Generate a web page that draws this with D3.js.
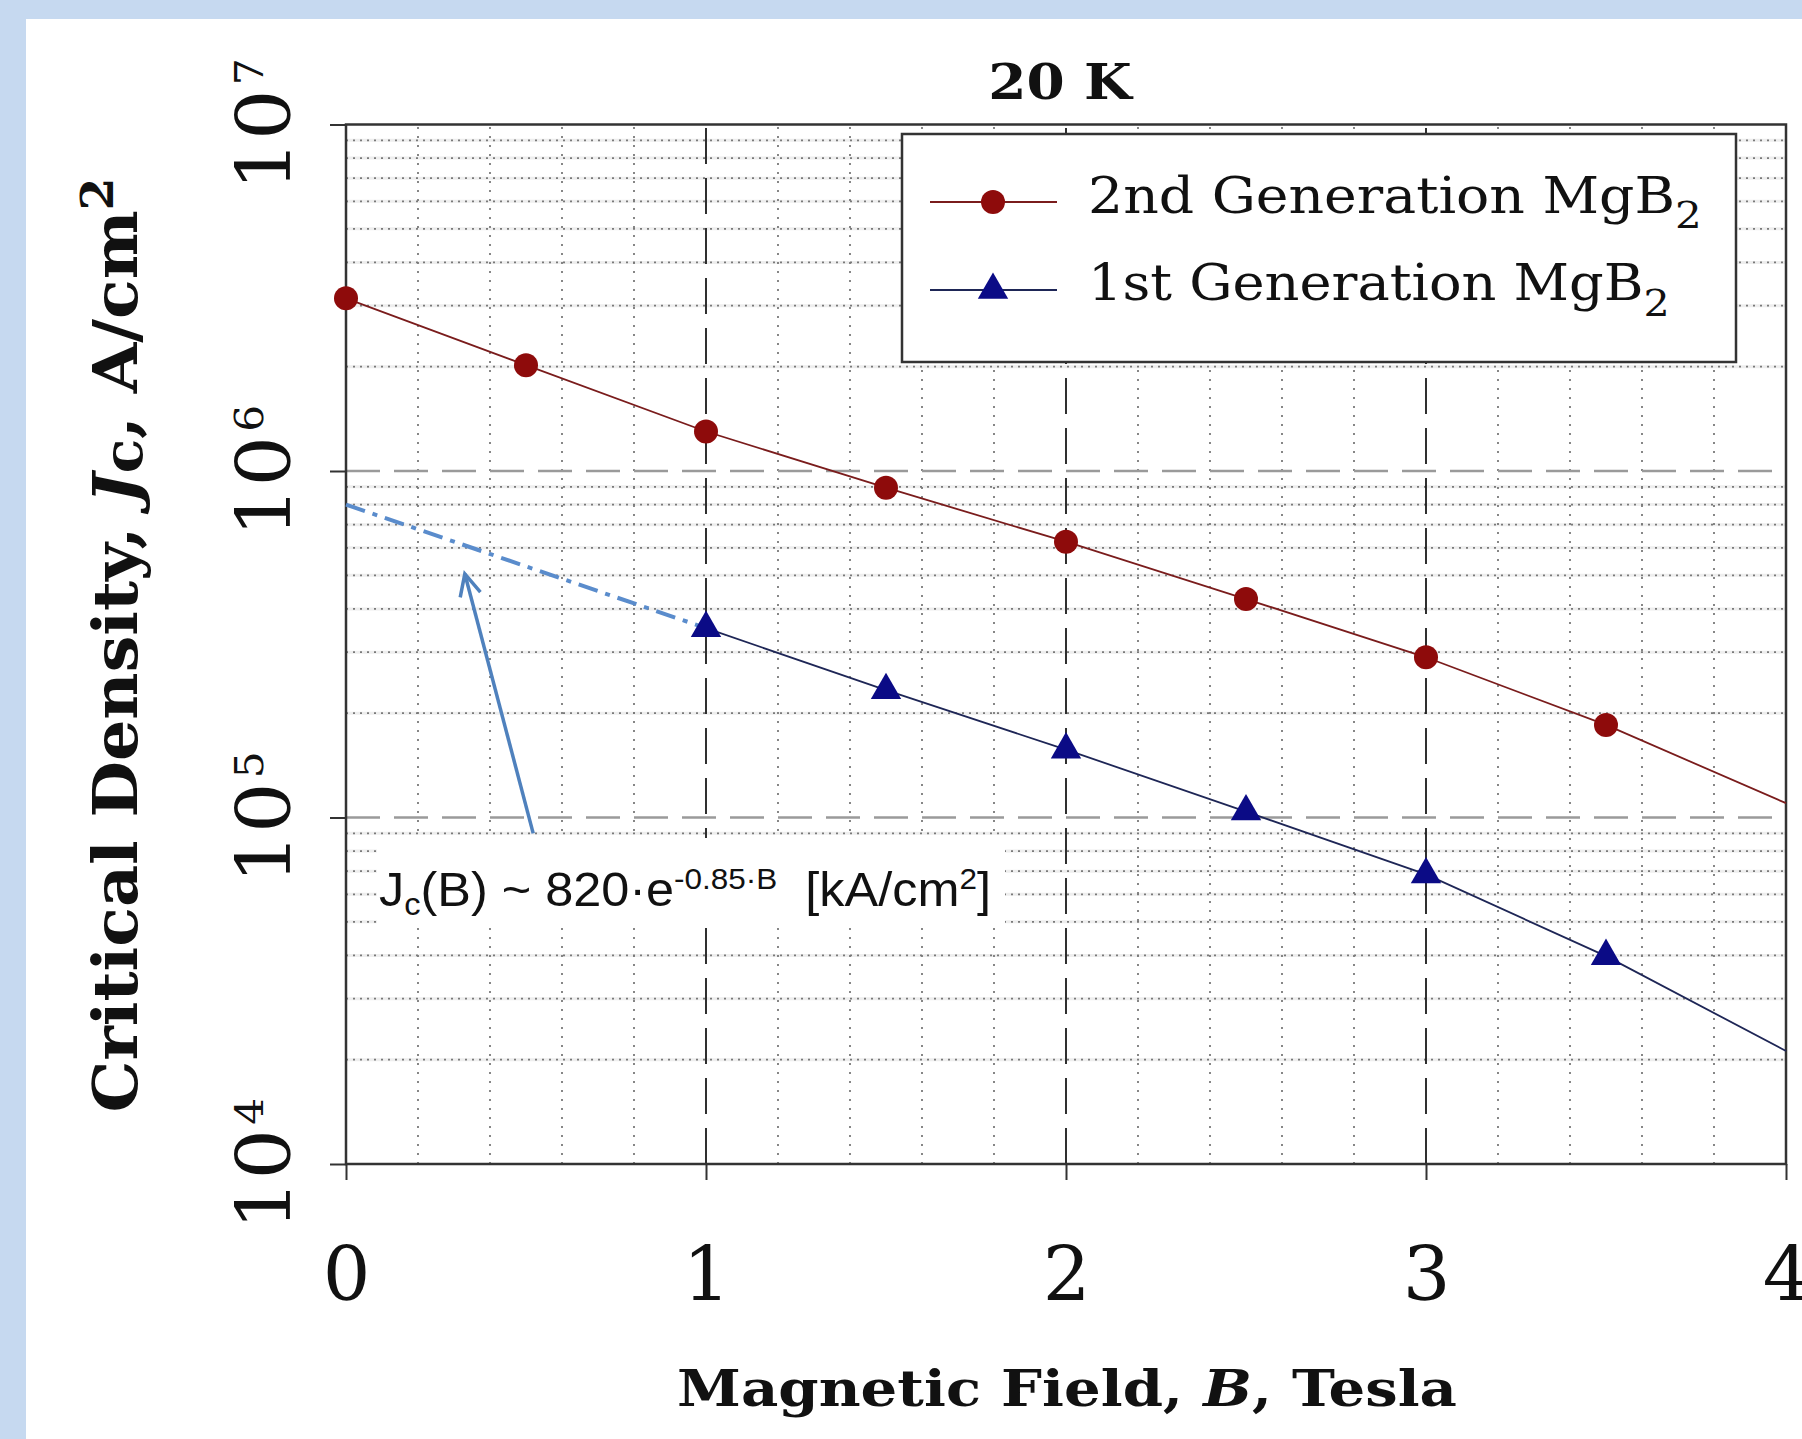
<!DOCTYPE html>
<html>
<head>
<meta charset="utf-8">
<script src="https://cdn.jsdelivr.net/npm/d3@7"></script>
<style>
html, body { margin: 0; padding: 0; background: #ffffff; }
svg { display: block; }
</style>
</head>
<body>
<svg id="chart" width="1802" height="1439"></svg>
<script>
// ---------------- data ----------------
const fieldB2nd = [0, 0.5, 1, 1.5, 2, 2.5, 3, 3.5];
const jc2nd = [3.15e6, 2.02e6, 1.30e6, 8.95e5, 6.25e5, 4.27e5, 2.90e5, 1.85e5];
const fieldB1st = [1, 1.5, 2, 2.5, 3, 3.5];
const jc1st = [3.52e5, 2.33e5, 1.57e5, 1.04e5, 6.85e4, 3.98e4];
const lineEndB = [4];
const jc2ndAtEnd = [1.10e5];
const jc1stAtEnd = [2.12e4];
const fitB = [0, 1];
const fitJc = [8.0e5, 3.52e5];
const arrowB = [0.52, 0.33];
const arrowJc = [9.0e4, 5.05e5];
const xTickValues = [0, 1, 2, 3, 4];
const yTickExponents = [4, 5, 6, 7];
const seriesNames = ["2nd Generation MgB", "1st Generation MgB"];
const titleText = "20 K";

// ---------------- setup ----------------
const svg = d3.select("#chart");
const W = 1802, H = 1439;

svg.append("rect").attr("width", W).attr("height", H).attr("fill", "#c6d9f0");
svg.append("rect").attr("x", 26).attr("y", 19).attr("width", W - 26).attr("height", H - 19).attr("fill", "#ffffff");

const x = d3.scaleLinear().domain([0, 4]).range([346, 1786]);
const y = d3.scaleLog().domain([1e4, 1e7]).range([1164, 124.5]);

const SERIF = "'DejaVu Serif', 'Liberation Serif', serif";
const SANS = "'Liberation Sans', Arial, sans-serif";

// rich text helper: parts = [{t, size, shift, style, weight}]
function richText(textSel, parts, baseSize) {
  let cur = 0;
  parts.forEach(p => {
    const shift = p.shift || 0;
    const ts = textSel.append("tspan").text(p.t);
    ts.attr("dy", shift - cur);
    cur = shift;
    ts.attr("font-size", p.size || baseSize);
    if (p.style) ts.attr("font-style", p.style);
    if (p.weight) ts.attr("font-weight", p.weight);
    if (p.dx) ts.attr("dx", p.dx);
  });
}
function placeText(parent, opt, parts) {
  const g = parent.append("g")
    .attr("transform", `translate(${opt.x},${opt.y}) rotate(${opt.rot || 0})`);
  const t = g.append("text")
    .attr("x", 0).attr("y", 0)
    .attr("text-anchor", opt.anchor || "start")
    .attr("font-family", opt.family)
    .attr("font-size", opt.size)
    .attr("font-weight", opt.weight || "normal")
    .attr("fill", opt.fill || "#111")
    .style("white-space", "pre");
  richText(t, parts, opt.size);
  if (opt.target) {
    const w = t.node().getBBox().width;
    t.attr("transform", `scale(${opt.target / w},1)`);
  } else if (opt.sx) {
    t.attr("transform", `scale(${opt.sx},1)`);
  }
  return g;
}

// ---------------- grid ----------------
const grid = svg.append("g");
const xMinor = d3.range(1, 20).filter(i => i % 5 !== 0).map(i => i * 0.2);
const yMinor = [];
[4, 5, 6].forEach(e => { for (let m = 2; m <= 9; m++) yMinor.push(m * Math.pow(10, e)); });

grid.selectAll(".hfaint").data(yMinor).join("line")
  .attr("x1", x(0)).attr("x2", x(4)).attr("y1", d => y(d)).attr("y2", d => y(d))
  .attr("stroke", "#eeeeee").attr("stroke-width", 3);
grid.selectAll(".hminor").data(yMinor).join("line")
  .attr("x1", x(0)).attr("x2", x(4)).attr("y1", d => y(d)).attr("y2", d => y(d))
  .attr("stroke", "#7a7a7a").attr("stroke-width", 1.8).attr("stroke-dasharray", "2,5");
grid.selectAll(".vminor").data(xMinor).join("line")
  .attr("x1", d => x(d)).attr("x2", d => x(d)).attr("y1", y(1e4)).attr("y2", y(1e7))
  .attr("stroke", "#7a7a7a").attr("stroke-width", 1.8).attr("stroke-dasharray", "2,7");
grid.selectAll(".hmajor").data([1e5, 1e6]).join("line")
  .attr("x1", x(0)).attr("x2", x(4)).attr("y1", d => y(d)).attr("y2", d => y(d))
  .attr("stroke", "#9a9a9a").attr("stroke-width", 2.5).attr("stroke-dasharray", "34,14");
grid.selectAll(".vmajor").data([1, 2, 3]).join("line")
  .attr("x1", d => x(d)).attr("x2", d => x(d)).attr("y1", y(1e4)).attr("y2", y(1e7))
  .attr("stroke", "#1a1a1a").attr("stroke-width", 1.8).attr("stroke-dasharray", "36,14");

// ---------------- axes ----------------
const xAxis = svg.append("g").attr("transform", `translate(0,${y(1e4)})`)
  .call(d3.axisBottom(x).tickValues(xTickValues).tickSize(16).tickFormat(d3.format("d")));
xAxis.select(".domain").remove();
xAxis.selectAll(".tick line").attr("stroke", "#333").attr("stroke-width", 2);
xAxis.selectAll(".tick text")
  .attr("y", 136).attr("dy", 0)
  .attr("font-family", SERIF).attr("font-size", 75).attr("fill", "#111");

const yAxis = svg.append("g").attr("transform", `translate(${x(0)},0)`)
  .call(d3.axisLeft(y).tickValues(yTickExponents.map(e => Math.pow(10, e))).tickSize(16).tickFormat(""));
yAxis.select(".domain").remove();
yAxis.selectAll(".tick line").attr("stroke", "#333").attr("stroke-width", 2);

yTickExponents.forEach(e => {
  placeText(svg, { x: 290, y: y(Math.pow(10, e)), rot: -90, anchor: "middle", family: SERIF, size: 75, sx: 1.06 },
    [{ t: "10" }, { t: String(e), size: 40, shift: -27, dx: 4 }]);
});

// frame
svg.append("rect")
  .attr("x", x(0)).attr("y", y(1e7)).attr("width", x(4) - x(0)).attr("height", y(1e4) - y(1e7))
  .attr("fill", "none").attr("stroke", "#333").attr("stroke-width", 2.5);

// ---------------- series ----------------
const pts2 = fieldB2nd.map((b, i) => [b, jc2nd[i]]);
const pts1 = fieldB1st.map((b, i) => [b, jc1st[i]]);
const line2 = pts2.concat(lineEndB.map((b, i) => [b, jc2ndAtEnd[i]]));
const line1 = pts1.concat(lineEndB.map((b, i) => [b, jc1stAtEnd[i]]));
const lineGen = d3.line().x(d => x(d[0])).y(d => y(d[1]));

const RED_LINE = "#7a1c1c", RED = "#8e0b0b", BLUE_LINE = "#1e2656", BLUE = "#0b0b86";

svg.append("path").attr("d", lineGen(line2)).attr("fill", "none")
  .attr("stroke", RED_LINE).attr("stroke-width", 1.8);
svg.append("path").attr("d", lineGen(line1)).attr("fill", "none")
  .attr("stroke", BLUE_LINE).attr("stroke-width", 1.8);

// extrapolated fit (dash-dot)
const fitPts = fitB.map((b, i) => [b, fitJc[i]]);
svg.append("path").attr("d", lineGen(fitPts)).attr("fill", "none")
  .attr("stroke", "#5a8ccc").attr("stroke-width", 4).attr("stroke-dasharray", "20,8,5,8");

svg.selectAll(".c2").data(pts2).join("circle")
  .attr("cx", d => x(d[0])).attr("cy", d => y(d[1])).attr("r", 12).attr("fill", RED);
const tri = d3.symbol(d3.symbolTriangle, 400);
svg.selectAll(".t1").data(pts1).join("path")
  .attr("d", tri).attr("transform", d => `translate(${x(d[0])},${y(d[1])})`).attr("fill", BLUE);

// ---------------- annotation ----------------
svg.append("rect").attr("x", 377).attr("y", 838).attr("width", 628).attr("height", 90).attr("fill", "#ffffff");
placeText(svg, { x: 379, y: 906, family: SANS, size: 48, target: 612, fill: "#111" },
  [{ t: "J" }, { t: "c", size: 31, shift: 9 }, { t: "(B) ~ 820·e" },
   { t: "-0.85·B", size: 30, shift: -17 }, { t: "\u00a0\u00a0[kA/cm" }, { t: "2", size: 30, shift: -17 }, { t: "]" }]);

// arrow
const ax0 = x(arrowB[0]), ay0 = y(arrowJc[0]), ax1 = x(arrowB[1]), ay1 = y(arrowJc[1]);
svg.append("line").attr("x1", ax0).attr("y1", ay0).attr("x2", ax1).attr("y2", ay1)
  .attr("stroke", "#4f81bd").attr("stroke-width", 3.5);
const ang = Math.atan2(ay0 - ay1, ax0 - ax1);
const hl = 24, spread = 0.45;
const head = d3.path();
head.moveTo(ax1 + hl * Math.cos(ang - spread), ay1 + hl * Math.sin(ang - spread));
head.lineTo(ax1, ay1);
head.lineTo(ax1 + hl * Math.cos(ang + spread), ay1 + hl * Math.sin(ang + spread));
svg.append("path").attr("d", head.toString()).attr("fill", "none")
  .attr("stroke", "#4f81bd").attr("stroke-width", 3.5).attr("stroke-linejoin", "miter");

// ---------------- legend ----------------
const leg = svg.append("g");
leg.append("rect").attr("x", 902).attr("y", 134).attr("width", 834).attr("height", 228)
  .attr("fill", "#ffffff").attr("stroke", "#333").attr("stroke-width", 2.5);
const legRows = [
  { name: seriesNames[0], y: 202, base: 213, color: RED_LINE, mark: "circle", fill: RED, target: 614, sub: 38, subShift: 15 },
  { name: seriesNames[1], y: 290, base: 300, color: BLUE_LINE, mark: "tri", fill: BLUE, target: 582, sub: 38, subShift: 16 }
];
legRows.forEach(r => {
  leg.append("line").attr("x1", 930).attr("x2", 1057).attr("y1", r.y).attr("y2", r.y)
    .attr("stroke", r.color).attr("stroke-width", 1.8);
  if (r.mark === "circle") {
    leg.append("circle").attr("cx", 993).attr("cy", r.y).attr("r", 12).attr("fill", r.fill);
  } else {
    leg.append("path").attr("d", tri).attr("transform", `translate(993,${r.y})`).attr("fill", r.fill);
  }
  placeText(leg, { x: 1088, y: r.base, family: SERIF, size: 50, target: r.target },
    [{ t: r.name }, { t: "2", size: r.sub, shift: r.subShift }]);
});

// ---------------- titles ----------------
placeText(svg, { x: 1060, y: 99, anchor: "middle", family: SERIF, size: 49, weight: "bold", target: 146 },
  [{ t: titleText }]);
placeText(svg, { x: 1067, y: 1406, anchor: "middle", family: SERIF, size: 50, weight: "bold", target: 780 },
  [{ t: "Magnetic Field, " }, { t: "B", style: "italic" }, { t: ", Tesla" }]);
placeText(svg, { x: 137, y: 645, rot: -90, anchor: "middle", family: SERIF, size: 62, weight: "bold", target: 935 },
  [{ t: "Critical Density, " }, { t: "J", style: "italic" }, { t: "c", size: 54, shift: 5 },
   { t: ", A/cm" }, { t: "2", size: 45, shift: -24 }]);
</script>
</body>
</html>
